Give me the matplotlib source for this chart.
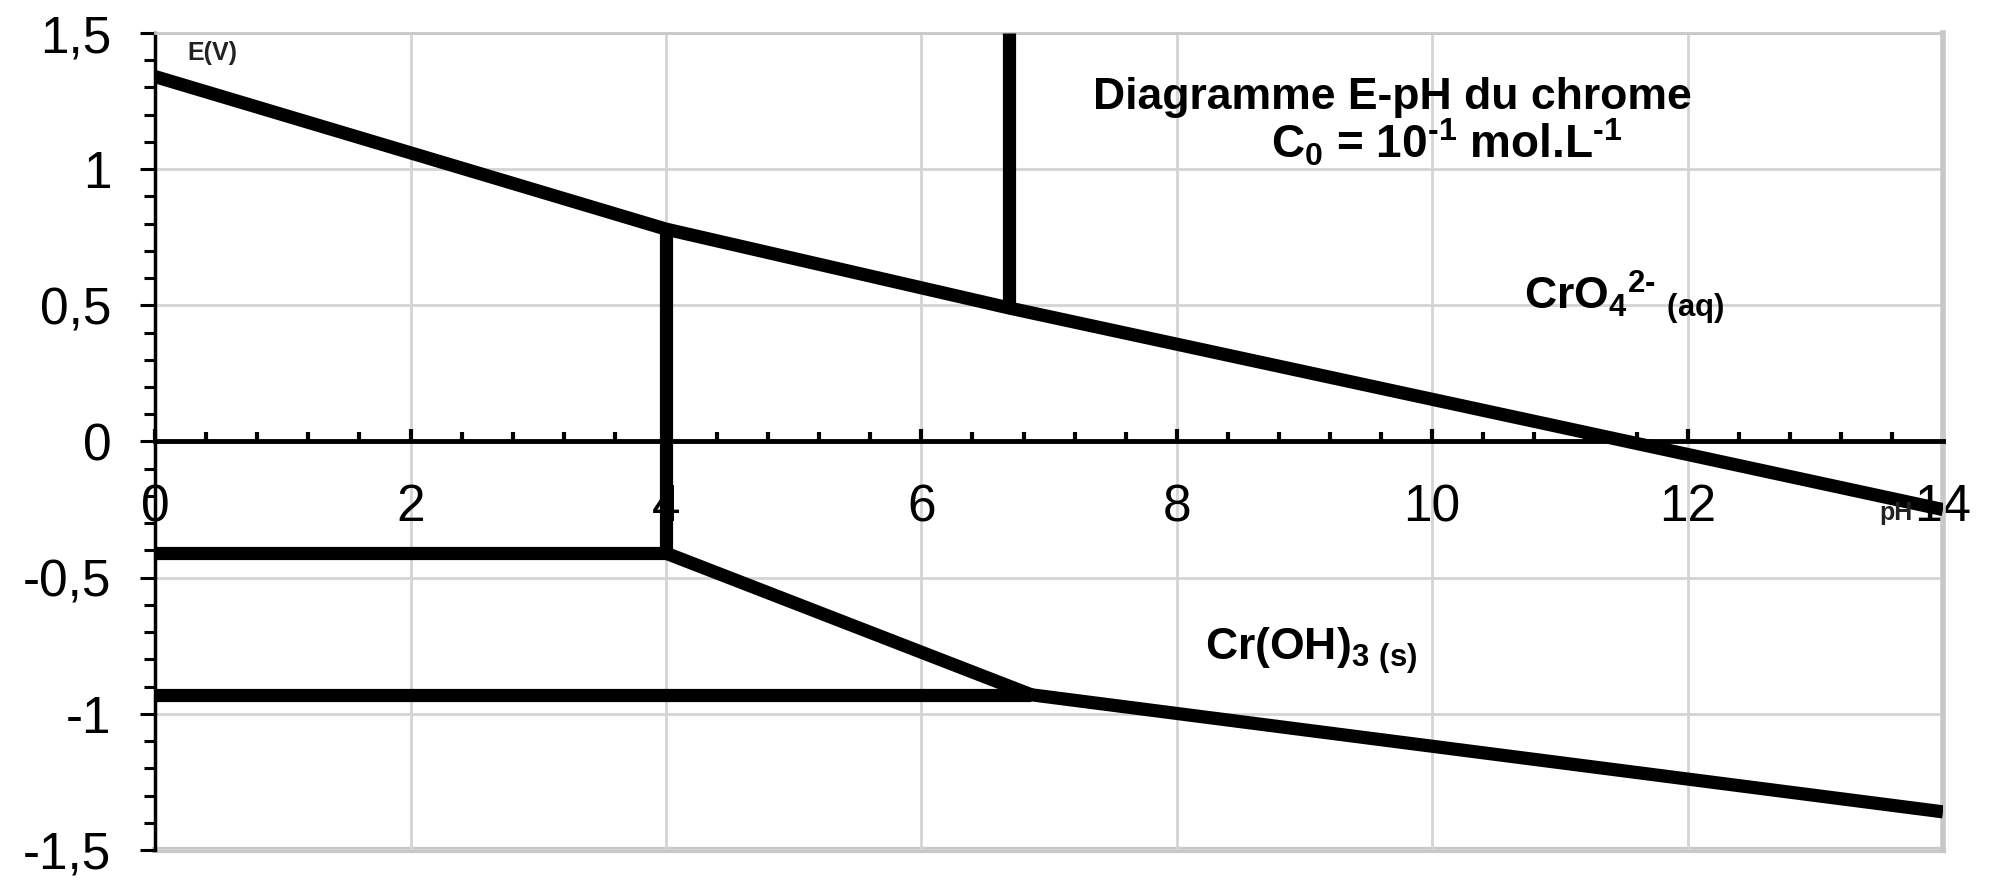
import matplotlib
matplotlib.use("Agg")
import matplotlib.pyplot as plt
from matplotlib.ticker import MultipleLocator, FixedLocator

plt.rcParams['font.family'] = ['Liberation Sans', 'DejaVu Sans']
plt.rcParams['mathtext.default'] = 'regular'

# ---- data (pH, E in volts) ----
ph_upper = [0, 4, 6.69, 14]
e_upper = [1.34, 0.78, 0.49, -0.25]
ph_vert1 = [4, 4]
e_vert1 = [0.78, -0.41]
ph_vert2 = [6.69, 6.69]
e_vert2 = [0.49, 1.5]
ph_hor1 = [0, 4]
e_hor1 = [-0.41, -0.41]
ph_mid = [4, 6.86]
e_mid = [-0.41, -0.93]
ph_hor2 = [0, 6.86]
e_hor2 = [-0.93, -0.93]
ph_low = [6.86, 14]
e_low = [-0.93, -1.36]

x_ticks = [0, 2, 4, 6, 8, 10, 12, 14]
x_tick_labels = ["0", "2", "4", "6", "8", "10", "12", "14"]
y_ticks = [-1.5, -1.0, -0.5, 0.0, 0.5, 1.0, 1.5]
y_tick_labels = ["-1,5", "-1", "-0,5", "0", "0,5", "1", "1,5"]

HY = "\u2010"
title_line1 = "Diagramme E-pH du chrome"
title_line2 = "C$_0$ = 10$^{" + HY + "1}$ mol.L$^{" + HY + "1}$"
label_chromate = "CrO$_4$$^{2" + HY + "}$$_{\\ (aq)}$"
label_hydroxide = "Cr(OH)$_{3\\ (s)}$"

fig = plt.figure(figsize=(19.91, 8.83), dpi=100)
ax = fig.add_axes([0.0779, 0.0374, 0.898, 0.9252])
ax.set_xlim(0, 14)
ax.set_ylim(-1.5, 1.5)

grid_col = '#d4d4d4'
ax.grid(True, which='major', color=grid_col, lw=2)
ax.set_axisbelow(True)

ax.spines['bottom'].set_position(('data', 0))
ax.spines['bottom'].set_linewidth(3.5)
ax.spines['bottom'].set_color('black')
ax.spines['left'].set_linewidth(2.5)
ax.spines['left'].set_color('black')
ax.spines['top'].set_color('#c8c8c8')
ax.spines['top'].set_linewidth(2)
ax.spines['right'].set_color('#c8c8c8')
ax.spines['right'].set_linewidth(4)
ax.axhline(-1.5, color='#c8c8c8', lw=4.5, clip_on=False, zorder=0.5)

ax.xaxis.set_major_locator(FixedLocator(x_ticks))
ax.set_xticklabels(x_tick_labels)
ax.xaxis.set_minor_locator(MultipleLocator(0.4))
ax.yaxis.set_major_locator(FixedLocator(y_ticks))
ax.set_yticklabels(y_tick_labels)
ax.yaxis.set_minor_locator(MultipleLocator(0.1))

ax.tick_params(axis='x', which='major', direction='in', length=9, width=3,
               pad=30, labelsize=37)
ax.tick_params(axis='x', which='minor', direction='in', length=6.5, width=3)
ax.tick_params(axis='y', which='major', direction='out', length=10.5, width=2.2,
               pad=21, labelsize=37)
ax.tick_params(axis='y', which='minor', direction='out', length=8, width=2.2)

segments = [(ph_upper, e_upper), (ph_vert1, e_vert1), (ph_vert2, e_vert2),
            (ph_hor1, e_hor1), (ph_mid, e_mid), (ph_hor2, e_hor2),
            (ph_low, e_low)]
for xs, ys in segments:
    ax.plot(xs, ys, color='black', lw=9.5, solid_capstyle='butt',
            solid_joinstyle='miter', zorder=3)

ax.text(9.69, 1.22, title_line1, ha='center', va='baseline',
        fontsize=32, fontweight='bold')
ax.text(10.11, 1.04, title_line2, ha='center', va='baseline',
        fontsize=33, fontweight='bold')
ax.text(10.72, 0.485, label_chromate, ha='left', va='baseline',
        fontsize=32, fontweight='bold')
ax.text(8.22, -0.80, label_hydroxide, ha='left', va='baseline',
        fontsize=32, fontweight='bold')
ax.text(0.25, 1.40, "E(V)", ha='left', va='baseline', fontsize=18,
        fontweight='bold', color='#222222')
ax.text(13.5, -0.29, "pH", ha='left', va='baseline', fontsize=18,
        fontweight='bold', color='#222222')

fig.savefig("out.png", dpi=100)
